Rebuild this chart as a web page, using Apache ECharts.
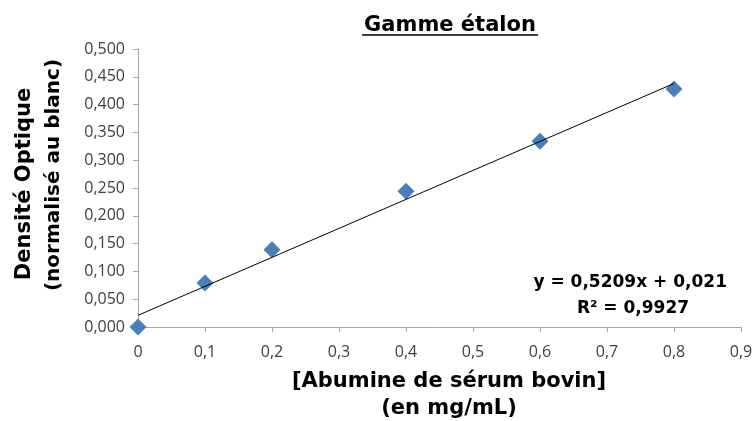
<!DOCTYPE html>
<html><head><meta charset="utf-8">
<script src="https://cdn.jsdelivr.net/npm/echarts@6/dist/echarts.min.js"></script>
<style>html,body{margin:0;padding:0;background:#fff}#c{width:753px;height:421px}</style>
</head><body><div id="c"></div>
<script>
const concentrations = [0, 0.1, 0.2, 0.4, 0.6, 0.8];
const absorbances = [0.000, 0.079, 0.139, 0.244, 0.334, 0.428];
const trendX = [0, 0.8];
const trendY = [0.021, 0.438];
const xTicks = [0, 0.1, 0.2, 0.3, 0.4, 0.5, 0.6, 0.7, 0.8, 0.9];
const yTicks = [0, 0.05, 0.1, 0.15, 0.2, 0.25, 0.3, 0.35, 0.4, 0.45, 0.5];
const titleText = 'Gamme étalon';
const xTitle = ['[Abumine de sérum bovin]', '(en mg/mL)'];
const yTitle = ['Densité Optique', '(normalisé au blanc)'];
const equation = ['y = 0,5209x + 0,021', 'R² = 0,9927'];

const chart = echarts.init(document.getElementById('c'));
const axisCol = '#a6a6a6';
const boldFont = { fontFamily: 'DejaVu Sans', fontWeight: 'bold', fill: '#000' };
chart.setOption({
  animation: false,
  grid: { left: 138, right: 12, top: 49, bottom: 94, outerBoundsMode: 'none', containLabel: false },
  xAxis: {
    type: 'value', min: 0, max: 0.9, interval: 0.1,
    axisLine: { lineStyle: { color: axisCol } },
    axisTick: { show: true, length: 5, inside: false, lineStyle: { color: axisCol } },
    splitLine: { show: false },
    axisLabel: { margin: 17, fontFamily: 'Open Sans', fontSize: 16, color: '#404040',
      formatter: v => v === 0 ? '0' : v.toFixed(1).replace('.', ',') }
  },
  yAxis: {
    type: 'value', min: 0, max: 0.5, interval: 0.05,
    axisLine: { show: true, lineStyle: { color: axisCol } },
    axisTick: { show: true, length: 5, lineStyle: { color: axisCol } },
    splitLine: { show: false },
    axisLabel: { margin: 13, fontFamily: 'Open Sans', fontSize: 16, color: '#404040',
      formatter: v => v.toFixed(3).replace('.', ',') }
  },
  series: [
    { type: 'line', data: trendX.map((x, i) => [x, trendY[i]]), symbol: 'none',
      lineStyle: { color: '#000', width: 1 }, z: 3 },
    { type: 'scatter', data: concentrations.map((x, i) => [x, absorbances[i]]),
      symbol: 'diamond', symbolSize: 17, itemStyle: { color: '#4a7ebb', opacity: 1 }, z: 2 }
  ],
  graphic: [
    { type: 'text', x: 450, y: 26, style: Object.assign({ text: titleText, align: 'center', verticalAlign: 'middle', fontSize: 21 }, boldFont) },
    { type: 'line', shape: { x1: 362, y1: 35, x2: 538, y2: 35 }, style: { stroke: '#000', lineWidth: 1.6 } },
    { type: 'text', x: 449, y: 382, style: Object.assign({ text: xTitle[0], align: 'center', verticalAlign: 'middle', fontSize: 21 }, boldFont) },
    { type: 'text', x: 449, y: 409, style: Object.assign({ text: xTitle[1], align: 'center', verticalAlign: 'middle', fontSize: 21 }, boldFont) },
    { type: 'text', x: 25, y: 184, rotation: Math.PI / 2, style: Object.assign({ text: yTitle[0], align: 'center', verticalAlign: 'middle', fontSize: 21 }, boldFont) },
    { type: 'text', x: 54, y: 175, rotation: Math.PI / 2, style: Object.assign({ text: yTitle[1], align: 'center', verticalAlign: 'middle', fontSize: 20 }, boldFont) },
    { type: 'text', x: 727, y: 283, style: Object.assign({ text: equation[0], align: 'right', verticalAlign: 'middle', fontSize: 17 }, boldFont) },
    { type: 'text', x: 633, y: 309, style: Object.assign({ text: equation[1], align: 'center', verticalAlign: 'middle', fontSize: 17 }, boldFont) }
  ]
});
</script></body></html>
